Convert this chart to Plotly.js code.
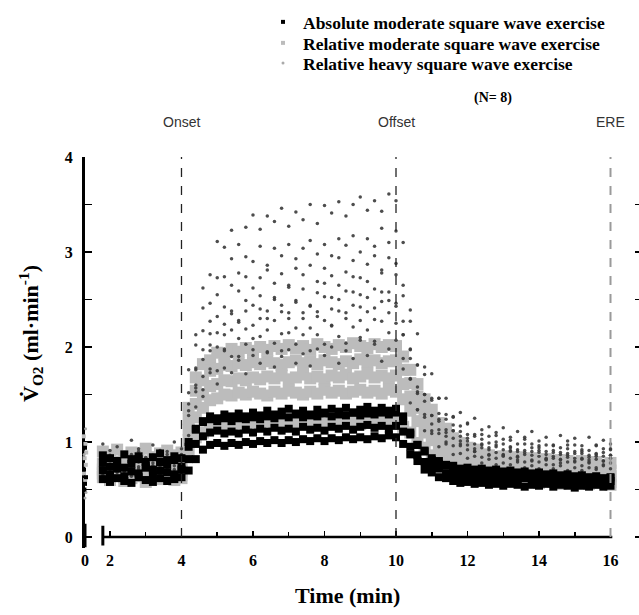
<!DOCTYPE html>
<html><head><meta charset="utf-8">
<script src="https://cdn.plot.ly/plotly-3.0.1.min.js"></script>
<style>html,body{margin:0;padding:0;overflow:hidden;background:#fff}#chart{width:642px;height:615px}</style>
</head><body><div id="chart"></div>
<script>
// time grid (min)
const time = [1.8,2.0,2.2,2.4,2.6,2.8,3.0,3.2,3.4,3.6,3.8,4.0,
 4.2,4.4,4.6,4.8,5.0,5.2,5.4,5.6,5.8,6.0,6.2,6.4,6.6,6.8,7.0,7.2,7.4,7.6,7.8,8.0,8.2,8.4,8.6,8.8,9.0,9.2,9.4,9.6,9.8,10.0,
 10.2,10.4,10.6,10.8,11.0,11.2,11.4,11.6,11.8,12.0,12.2,12.4,12.6,12.8,13.0,13.2,13.4,13.6,13.8,14.0,14.2,14.4,14.6,14.8,15.0,15.2,15.4,15.6,15.8,16.0];

// Absolute moderate square wave exercise (black)
const absMod1 = [0.78,0.74,0.80,0.73,0.77,0.82,0.75,0.71,0.79,0.76,0.81,0.74,
 0.95,1.13,1.22,1.27,1.25, 1.29,1.27,1.30,1.27,1.31, 1.28,1.33,1.29,1.32,1.35, 1.30,1.33,1.29,1.34,1.31, 1.35,1.32,1.36,1.31,1.34, 1.37,1.33,1.36,1.33,1.35,
 1.27,1.08,0.97,0.90,0.81, 0.77,0.75,0.70,0.70,0.67, 0.68,0.66,0.67,0.65,0.67, 0.64,0.66,0.63,0.65,0.62, 0.63,0.61,0.63,0.60,0.62, 0.59,0.61,0.58,0.60,0.59];
const absMod2 = [0.70,0.66,0.72,0.64,0.69,0.67,0.73,0.65,0.70,0.68,0.66,0.71,
 0.82,0.98,1.06,1.10,1.12, 1.09,1.11,1.09,1.13,1.10, 1.14,1.11,1.15,1.12,1.14, 1.11,1.16,1.13,1.15,1.12, 1.16,1.14,1.17,1.13,1.16, 1.18,1.15,1.17,1.14,1.17,
 1.11,0.95,0.86,0.79,0.74, 0.72,0.67,0.66,0.64,0.65, 0.62,0.64,0.61,0.63,0.61, 0.63,0.60,0.62,0.60,0.62, 0.59,0.61,0.60,0.62,0.59, 0.61,0.59,0.61,0.60,0.62];
const absMod3 = [0.61,0.58,0.62,0.59,0.57,0.63,0.60,0.58,0.62,0.59,0.61,0.63,
 0.70,0.82,0.92,0.97,0.99, 0.96,0.99,0.97,1.00,0.98, 1.01,0.99,1.02,0.99,1.02, 1.00,1.03,1.01,1.04,1.01, 1.04,1.02,1.05,1.03,1.05, 1.03,1.06,1.04,1.07,1.05,
 0.98,0.87,0.80,0.71,0.68, 0.63,0.62,0.59,0.57,0.58, 0.56,0.57,0.55,0.56,0.54, 0.56,0.55,0.53,0.55,0.54, 0.56,0.53,0.55,0.54,0.52, 0.54,0.53,0.55,0.53,0.54];
const absMod4 = [0.86,0.83,0.80,0.87,0.82,0.85,0.79,0.84,0.88,0.81,0.85,0.83,
 1.00,1.14,1.21,1.24,1.22, 1.25,1.22,1.25,1.24,1.26, 1.24,1.27,1.25,1.28,1.26, 1.29,1.26,1.28,1.27,1.30, 1.27,1.29,1.28,1.31,1.28, 1.30,1.29,1.31,1.29,1.31,
 1.22,1.10,0.97,0.91,0.83, 0.80,0.76,0.75,0.72,0.73, 0.71,0.72,0.70,0.71,0.69, 0.70,0.68,0.69,0.67,0.68, 0.66,0.67,0.65,0.66,0.64, 0.65,0.63,0.64,0.62,0.63];

// Relative moderate square wave exercise (grey)
const relMod1 = [0.90,0.86,0.92,0.85,0.89,0.87,0.93,0.84,0.88,0.91,0.86,0.89,
 1.36,1.68,1.82,1.86,1.94, 1.92,1.98,1.95,1.99,1.96, 2.00,1.97,2.01,1.98,2.02, 1.99,2.01,1.97,2.03,2.00, 1.98,2.02,2.00,2.04,2.01, 1.99,2.03,2.00,2.02,2.01,
 1.90,1.76,1.61,1.45,1.34, 1.20,1.14,1.04,0.99,0.94, 0.92,0.87,0.86,0.84,0.85, 0.82,0.84,0.81,0.83,0.80, 0.82,0.79,0.81,0.80,0.78, 0.80,0.77,0.79,0.76,0.78];
const relMod2 = [0.77,0.74,0.79,0.73,0.76,0.78,0.72,0.75,0.80,0.74,0.77,0.75,
 1.24,1.54,1.65,1.75,1.77, 1.81,1.80,1.83,1.81,1.84, 1.82,1.85,1.83,1.81,1.84, 1.86,1.83,1.85,1.82,1.86, 1.84,1.82,1.85,1.83,1.87, 1.84,1.86,1.83,1.85,1.86,
 1.76,1.62,1.48,1.34,1.23, 1.10,1.04,0.95,0.91,0.85, 0.83,0.79,0.78,0.76,0.77, 0.74,0.76,0.73,0.75,0.72, 0.74,0.71,0.73,0.72,0.70, 0.73,0.71,0.69,0.72,0.70];
const relMod3 = [0.71,0.68,0.73,0.67,0.70,0.72,0.66,0.71,0.69,0.74,0.68,0.70,
 1.13,1.40,1.50,1.59,1.61, 1.65,1.64,1.67,1.65,1.68, 1.66,1.69,1.67,1.70,1.66, 1.68,1.71,1.67,1.69,1.66, 1.70,1.68,1.71,1.67,1.69, 1.72,1.68,1.70,1.67,1.70,
 1.61,1.48,1.36,1.22,1.13, 1.02,0.94,0.87,0.83,0.79, 0.75,0.74,0.71,0.70,0.70, 0.68,0.69,0.67,0.68,0.66, 0.68,0.65,0.67,0.66,0.64, 0.66,0.65,0.63,0.66,0.64];
const relMod4 = [0.63,0.60,0.65,0.59,0.62,0.64,0.58,0.63,0.61,0.66,0.60,0.62,
 1.02,1.26,1.36,1.44,1.46, 1.50,1.49,1.52,1.50,1.53, 1.51,1.49,1.53,1.51,1.54, 1.52,1.50,1.53,1.51,1.55, 1.52,1.54,1.51,1.53,1.55, 1.52,1.54,1.51,1.55,1.53,
 1.45,1.33,1.22,1.10,1.02, 0.91,0.86,0.79,0.75,0.72, 0.68,0.66,0.65,0.63,0.64, 0.62,0.63,0.61,0.62,0.60, 0.62,0.59,0.61,0.60,0.58, 0.60,0.59,0.57,0.60,0.58];
const relMod5 = [0.67,0.64,0.69,0.63,0.66,0.65,0.70,0.62,0.67,0.64,0.68,0.65,
 0.89,1.05,1.10,1.16,1.16, 1.19,1.18,1.20,1.19,1.21, 1.19,1.22,1.20,1.18,1.21, 1.19,1.22,1.20,1.21,1.19, 1.22,1.20,1.23,1.21,1.19, 1.22,1.20,1.23,1.21,1.22,
 1.16,1.10,0.99,0.94,0.86, 0.81,0.75,0.72,0.68,0.65, 0.64,0.63,0.61,0.60,0.61, 0.59,0.60,0.58,0.60,0.57, 0.59,0.58,0.56,0.59,0.57, 0.58,0.56,0.58,0.57,0.55];

// Relative heavy square wave exercise (dots)
const relHeavy1 = [0.98,0.86,0.95,0.88,1.02,0.90,0.84,0.97,0.91,0.87,1.00,0.93,
 1.76,2.13,2.62,2.76,3.11, 3.05,3.23,3.08,3.26,3.39, 3.24,3.38,3.32,3.46,3.27, 3.42,3.34,3.50,3.30,3.49, 3.41,3.53,3.38,3.50,3.58, 3.44,3.54,3.43,3.61,3.54,
 3.10,2.39,2.14,1.79,1.72, 1.46,1.46,1.27,1.31,1.19, 1.25,1.08,1.16,1.07,1.15, 1.02,1.11,1.03,1.11,0.96, 1.05,0.96,1.07,0.97,1.04, 0.92,1.05,0.96,1.02,0.93];
const relHeavy2 = [0.82,0.91,0.79,0.88,0.84,0.93,0.80,0.86,0.77,0.90,0.83,0.87,
 1.40,2.02,2.41,2.46,2.73, 2.74,2.93,2.78,2.95,2.90, 3.06,2.86,3.04,2.96,3.08, 2.93,3.04,3.12,2.98,3.08, 2.96,3.14,3.07,3.17,3.00, 3.14,3.06,3.25,3.10,3.22,
 2.65,2.27,1.81,1.71,1.46, 1.46,1.24,1.26,1.11,1.20, 1.06,1.13,0.99,1.10,0.98, 1.05,0.92,1.05,0.94,1.01, 0.90,0.97,0.89,1.01,0.90, 0.96,0.86,0.97,0.89,0.98];
const relHeavy3 = [0.76,0.84,0.81,0.73,0.87,0.79,0.83,0.75,0.86,0.78,0.82,0.77,
 1.52,1.76,2.17,2.27,2.55, 2.42,2.65,2.59,2.74,2.62, 2.73,2.81,2.67,2.77,2.65, 2.83,2.76,2.86,2.69,2.83, 2.75,2.94,2.79,2.91,2.73, 2.87,2.96,2.81,2.94,2.88,
 2.54,1.98,1.81,1.50,1.44, 1.24,1.29,1.12,1.17,1.01, 1.08,0.97,1.06,0.95,1.03, 0.90,0.98,0.89,0.98,0.89, 0.97,0.83,0.94,0.86,0.97, 0.83,0.91,0.82,0.93,0.86];
const relHeavy4 = [0.81,0.74,0.79,0.85,0.72,0.80,0.76,0.83,0.71,0.78,0.84,0.75,
 1.28,1.78,1.87,2.14,2.32, 2.24,2.38,2.28,2.49,2.44, 2.54,2.38,2.52,2.44,2.63, 2.49,2.61,2.43,2.57,2.67, 2.52,2.65,2.59,2.74,2.55, 2.69,2.61,2.78,2.58,2.76,
 2.27,1.97,1.58,1.50,1.28, 1.30,1.13,1.18,1.01,1.08, 0.93,1.03,0.92,1.00,0.87, 0.95,0.85,0.98,0.86,0.94, 0.82,0.91,0.82,0.93,0.83, 0.90,0.79,0.88,0.80,0.92];
const relHeavy5 = [0.70,0.77,0.68,0.74,0.79,0.66,0.73,0.71,0.78,0.69,0.75,0.72,
 1.07,1.57,1.69,2.02,2.00, 1.98,2.18,2.09,2.19,2.09, 2.30,2.18,2.28,2.14,2.36, 2.20,2.30,2.20,2.37,2.28, 2.22,2.38,2.30,2.44,2.28, 2.37,2.29,2.48,2.36,2.46,
 2.13,1.67,1.53,1.26,1.28, 1.09,1.10,0.96,1.06,0.92, 0.98,0.84,0.94,0.83,0.92, 0.83,0.90,0.79,0.90,0.79, 0.87,0.76,0.87,0.79,0.88, 0.75,0.84,0.73,0.85,0.78];
const relHeavy6 = [0.73,0.67,0.75,0.69,0.64,0.72,0.77,0.66,0.71,0.74,0.68,0.70,
 1.02,1.53,1.55,1.77,1.75, 1.96,1.90,1.86,2.03,1.97, 2.11,1.95,2.04,1.96,2.15, 2.03,2.13,1.96,2.13,2.03, 2.23,2.11,2.04,2.21,2.10, 2.18,2.06,2.27,2.15,2.25,
 1.88,1.66,1.34,1.29,1.09, 1.13,0.98,1.04,0.88,0.97, 0.85,0.94,0.82,0.89,0.78, 0.91,0.79,0.87,0.75,0.85, 0.76,0.85,0.75,0.84,0.73, 0.82,0.73,0.85,0.75,0.83];
const relHeavy7 = [0.65,0.71,0.63,0.70,0.67,0.74,0.62,0.69,0.66,0.72,0.64,0.68,
 0.98,1.37,1.48,1.73,1.61, 1.78,1.73,1.90,1.72,1.91, 1.83,1.94,1.79,1.90,1.97, 1.83,1.93,1.80,1.98,1.91, 2.00,1.83,1.96,1.88,2.07, 1.91,2.03,1.85,1.98,2.07,
 1.77,1.41,1.34,1.12,1.12, 0.95,1.00,0.87,0.96,0.83, 0.90,0.78,0.86,0.76,0.86, 0.76,0.84,0.73,0.81,0.72, 0.83,0.72,0.81,0.70,0.80, 0.70,0.81,0.71,0.80,0.72];
const relHeavy8 = [0.79,0.73,0.81,0.70,0.77,0.84,0.72,0.78,0.74,0.80,0.71,0.76,
 1.33,1.60,1.97,1.96,2.15, 2.13,2.35,2.26,2.38,2.23, 2.40,2.30,2.50,2.37,2.30, 2.47,2.36,2.44,2.32,2.53, 2.40,2.50,2.36,2.58,2.42, 2.52,2.41,2.58,2.49,2.43,
 2.13,1.88,1.51,1.43,1.19, 1.22,1.06,1.12,0.98,1.04, 0.90,0.98,0.87,0.97,0.85, 0.94,0.81,0.91,0.80,0.91, 0.81,0.89,0.78,0.88,0.79, 0.88,0.78,0.87,0.76,0.86];

// points plotted at time 0 (left of the axis break)
const absStripTime = [0.00,-0.05,0.05,0.00,-0.03];
const absStripVO2  = [0.94,0.71,0.63,0.56,0.50];
const relModStripTime = [-0.06,0.02,0.06,-0.02,0.04,-0.05,0.01];
const relModStripVO2  = [1.06,0.98,0.89,0.83,0.76,0.67,0.60];
const relHeavyStripTime = [0.03,-0.04,0.05,0.00];
const relHeavyStripVO2  = [1.14,0.87,0.47,0.41];

const seriesNames = ['Absolute moderate square wave exercise','Relative moderate square wave exercise','Relative heavy square wave exercise'];
const phaseLabels = ['Onset','Offset','ERE'];
const phaseTimes = [4,10,16];
const yTicks = [0,1,2,3,4];
const xTicks = [2,4,6,8,10,12,14,16];

function gather(subjects){
  const x=[], y=[];
  subjects.forEach(s=>{ s.forEach((v,i)=>{x.push(time[i]); y.push(v);}); });
  return {x,y};
}
const absAll = gather([absMod1,absMod2,absMod3,absMod4]);
const relModAll = gather([relMod1,relMod2,relMod3,relMod4,relMod5]);
const heavyAll = gather([relHeavy1,relHeavy2,relHeavy3,relHeavy4,relHeavy5,relHeavy6,relHeavy7,relHeavy8]);

const BLACK='#000000', GREY='#bcbcbc', HEAVY='#3a3a3a';
const W=642, H=615;
const px = v=>v/W, py = v=>1-v/H;

const traces = [
  {type:'scatter', mode:'markers', x:relModAll.x, y:relModAll.y,
   marker:{symbol:'square',size:12,color:GREY}, showlegend:false, hoverinfo:'skip'},
  {type:'scatter', mode:'markers', x:heavyAll.x, y:heavyAll.y,
   marker:{symbol:'circle',size:3.5,color:HEAVY,opacity:0.9}, showlegend:false, hoverinfo:'skip'},
  {type:'scatter', mode:'markers', x:absAll.x, y:absAll.y,
   marker:{symbol:'square',size:8,color:BLACK}, showlegend:false, hoverinfo:'skip'},
  {type:'scatter', mode:'markers', x:relModStripTime, y:relModStripVO2, xaxis:'x2', yaxis:'y',
   name:seriesNames[1], legend:'legend2', marker:{symbol:'square',size:4,color:GREY}, hoverinfo:'skip'},
  {type:'scatter', mode:'markers', x:relHeavyStripTime, y:relHeavyStripVO2, xaxis:'x2', yaxis:'y',
   name:seriesNames[2], legend:'legend3', marker:{symbol:'circle',size:3,color:'#aaaaaa'}, hoverinfo:'skip'},
  {type:'scatter', mode:'markers', x:absStripTime, y:absStripVO2, xaxis:'x2', yaxis:'y',
   name:seriesNames[0], legend:'legend', marker:{symbol:'square',size:4,color:BLACK}, hoverinfo:'skip'}
];

const serif = {family:'Liberation Serif, Times New Roman, serif', weight:'bold', color:'#000'};
const legendBase = {xanchor:'left', yanchor:'middle', x:px(263), bgcolor:'rgba(0,0,0,0)', borderwidth:0,
  font:Object.assign({size:17.5}, serif)};

const shapes = [
  {type:'line', xref:'x', yref:'y', x0:1.8, x1:16.05, y0:0, y1:0, line:{color:BLACK,width:2.5}},
  {type:'line', xref:'x', yref:'y', x0:1.8, x1:1.8, y0:-0.09, y1:0.12, line:{color:BLACK,width:3}},
  {type:'line', xref:'paper', yref:'y', x0:px(84.5), x1:px(84.5), y0:-0.11, y1:0.14, line:{color:BLACK,width:4}}
];
phaseTimes.forEach((t,i)=>{
  shapes.push({type:'line', xref:'x', yref:'y', x0:t, x1:t, y0:0, y1:4,
    line:{color: i===2 ? '#9a9a9a' : '#222', width: i===2 ? 2 : 1.3, dash:'dash'}});
});

const annotations = [
  {text:'Time (min)', xref:'paper', yref:'paper', x:px(348), y:py(595), xanchor:'center', yanchor:'middle', showarrow:false,
   font:Object.assign({size:22}, serif)},
  {text:'V\u0307<sub>O2</sub> (ml\u00b7min<sup>-1</sup>)', xref:'paper', yref:'paper', x:px(30), y:py(334), textangle:-90,
   xanchor:'center', yanchor:'middle', showarrow:false, font:Object.assign({size:22}, serif)},
  {text:'(N= 8)', xref:'paper', yref:'paper', x:px(493), y:py(98), xanchor:'center', yanchor:'middle', showarrow:false,
   font:Object.assign({size:14}, serif)}
];
phaseLabels.forEach((lab,i)=>{
  annotations.push({text:lab, xref:'x', yref:'paper', x:phaseTimes[i], y:py(122), xanchor:'center', yanchor:'middle',
    showarrow:false, font:{family:'Liberation Sans, Arial, sans-serif', size:14, color:'#333'}});
});

const tickFont = Object.assign({size:16}, serif);
const layout = {
  width:W, height:H, margin:{l:0,r:0,t:0,b:0}, paper_bgcolor:'#fff', plot_bgcolor:'rgba(0,0,0,0)',
  showlegend:true,
  legend:Object.assign({y:py(22)}, legendBase),
  legend2:Object.assign({y:py(43)}, legendBase),
  legend3:Object.assign({y:py(63)}, legendBase),
  xaxis:{domain:[px(85),1], range:[1.301,16.881], anchor:'free', position:py(537), showline:false,
    ticks:'inside', ticklen:6, tickwidth:1.5, tickcolor:BLACK, tickmode:'array', tickvals:xTicks, ticktext:xTicks.map(String),
    minor:{ticks:'inside', ticklen:5, tickwidth:1.5, tickcolor:BLACK, tick0:0, dtick:1},
    showgrid:false, zeroline:false, tickfont:tickFont, ticklabelstandoff:12},
  xaxis2:{domain:[px(79),px(91)], range:[-0.3,0.3], anchor:'free', position:py(537), showline:false,
    ticks:'', tickmode:'array', tickvals:[0], ticktext:['0'], showgrid:false, zeroline:false,
    tickfont:tickFont, ticklabelstandoff:12},
  yaxis:{domain:[py(547.5),py(157)], range:[-0.11,4], anchor:'x', showline:true, linewidth:3, linecolor:BLACK,
    mirror:'ticks', ticks:'inside', ticklen:7, tickwidth:1.5, tickcolor:BLACK,
    tickmode:'array', tickvals:yTicks, ticktext:yTicks.map(String),
    minor:{ticks:'inside', ticklen:7, tickwidth:1.5, tickcolor:BLACK, tick0:0, dtick:0.5},
    showgrid:false, zeroline:false, tickfont:tickFont, ticklabelstandoff:6},
  shapes:shapes, annotations:annotations
};

Plotly.newPlot('chart', traces, layout, {staticPlot:true, displayModeBar:false});
</script></body></html>
